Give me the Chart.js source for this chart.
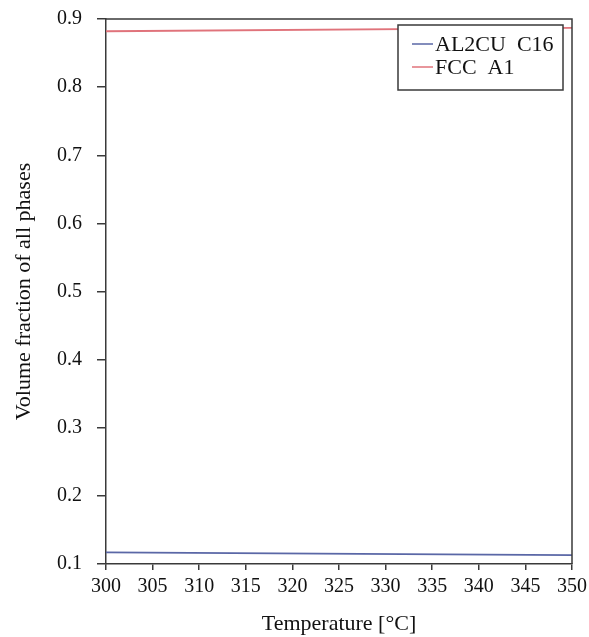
<!DOCTYPE html>
<html>
<head>
<meta charset="utf-8">
<script src="https://cdn.jsdelivr.net/npm/chart.js@4"></script>
<style>
  html, body { margin: 0; padding: 0; background: #fff; }
  #wrap { width: 589px; height: 637px; }
</style>
</head>
<body>
<div id="wrap"><canvas id="phaseChart" width="589" height="637"></canvas></div>
<script>
// Data
const temps = [300, 350];
const al2cu = [0.117, 0.113];
const fcc = [0.882, 0.887];
const seriesNames = ["AL2CU  C16", "FCC  A1"];
const seriesColors = ["#5a67a6", "#e0737b"];

const serif = "'Liberation Serif', 'DejaVu Serif', serif";
const axisColor = "#3a3a3a";

// frame round the plot + legend box inside it
const framePlugin = {
  id: "frame",
  afterDraw(chart) {
    const { ctx, chartArea: a } = chart;
    ctx.save();
    ctx.strokeStyle = axisColor;
    ctx.lineWidth = 1.5;
    ctx.beginPath();
    ctx.moveTo(a.left, a.top);
    ctx.lineTo(a.right, a.top);
    ctx.lineTo(a.right, a.bottom);
    ctx.stroke();

    // legend
    const bx = a.right - 174, by = a.top + 6, bw = 165, bh = 65;
    ctx.fillStyle = "#fff";
    ctx.fillRect(bx, by, bw, bh);
    ctx.strokeRect(bx, by, bw, bh);
    ctx.font = "22px " + serif;
    ctx.textBaseline = "middle";
    chart.data.datasets.forEach((ds, i) => {
      const y = by + 19 + i * 23;
      ctx.strokeStyle = ds.borderColor;
      ctx.lineWidth = 1.5;
      ctx.beginPath();
      ctx.moveTo(bx + 14, y);
      ctx.lineTo(bx + 35, y);
      ctx.stroke();
      ctx.fillStyle = "#111";
      ctx.fillText(ds.label, bx + 37, y + 1);
    });
    ctx.restore();
  }
};

new Chart(document.getElementById("phaseChart"), {
  type: "line",
  data: {
    datasets: [
      {
        label: seriesNames[0],
        data: temps.map((t, i) => ({ x: t, y: al2cu[i] })),
        borderColor: seriesColors[0],
        borderWidth: 1.8,
        pointRadius: 0,
        fill: false
      },
      {
        label: seriesNames[1],
        data: temps.map((t, i) => ({ x: t, y: fcc[i] })),
        borderColor: seriesColors[1],
        borderWidth: 1.8,
        pointRadius: 0,
        fill: false
      }
    ]
  },
  options: {
    responsive: false,
    animation: false,
    layout: { padding: { top: 19, right: 17, left: 0, bottom: 0 } },
    plugins: {
      legend: { display: false },
      tooltip: { enabled: false }
    },
    scales: {
      x: {
        type: "linear",
        min: 300,
        max: 350,
        ticks: {
          stepSize: 5,
          color: "#111",
          font: { family: serif, size: 20 },
          padding: 5,
          maxRotation: 0
        },
        grid: { drawOnChartArea: false, tickLength: 6, color: axisColor, lineWidth: 1.5 },
        border: { color: axisColor, width: 1.5 },
        title: {
          display: true,
          text: "Temperature [°C]",
          color: "#111",
          font: { family: serif, size: 22 },
          padding: 0
        },
        afterFit(scale) {
          scale.height = 73;
          scale.paddingLeft = 0;
          scale.paddingRight = 0;
        }
      },
      y: {
        min: 0.1,
        max: 0.9,
        ticks: {
          stepSize: 0.1,
          color: "#111",
          font: { family: serif, size: 20 },
          padding: 15,
          callback: v => v.toFixed(1)
        },
        grid: { drawOnChartArea: false, tickLength: 9, color: axisColor, lineWidth: 1.5 },
        border: { color: axisColor, width: 1.5 },
        title: {
          display: true,
          text: "Volume fraction of all phases",
          color: "#111",
          font: { family: serif, size: 22 },
          padding: { top: 11, bottom: 0 }
        },
        afterFit(scale) {
          scale.width = 106;
          scale.paddingTop = 0;
          scale.paddingBottom = 0;
        }
      }
    }
  },
  plugins: [framePlugin]
});
</script>
</body>
</html>
